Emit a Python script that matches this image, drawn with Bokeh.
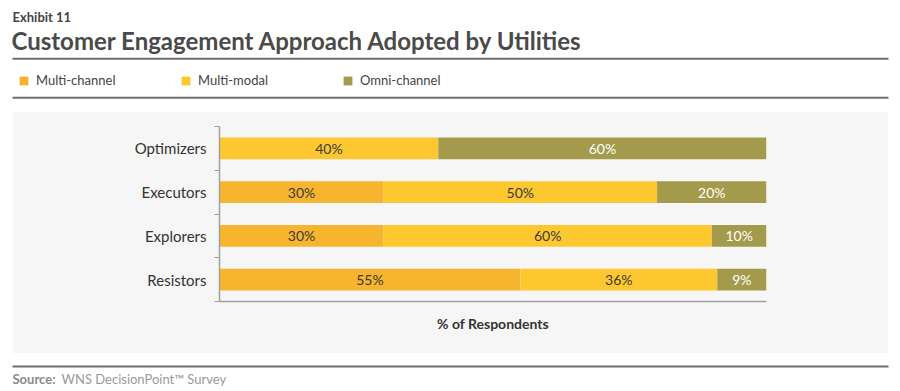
import numpy as np
from bokeh.plotting import figure
from bokeh.layouts import column, row
from bokeh.models import (Range1d, FixedTicker, Label, BoxAnnotation, Legend, LegendItem,
                          ColumnDataSource, Spacer)
from bokeh.core.properties import value
from bokeh.embed import file_html
from bokeh.resources import INLINE

# ---------------- data ----------------
categories = ["Optimizers", "Executors", "Explorers", "Resistors"]
series_names = ["Multi-channel", "Multi-modal", "Omni-channel"]
multi_channel = [0, 30, 30, 55]
multi_modal = [40, 50, 60, 36]
omni_channel = [60, 20, 10, 9]
series_colors = ["#F7B52F", "#FDC82F", "#A39B4B"]
label_colors = ["#3a3a3a", "#3a3a3a", "#ffffff"]

title_kicker = "Exhibit 11"
title_text = "Customer Engagement Approach Adopted by Utilities"
x_axis_title = "% of Respondents"
source_bold = "Source:"
source_rest = "WNS DecisionPoint\u2122 Survey"

W = 900
HEAD_H, MAIN_H, FOOT_H = 111, 242, 38
PANEL_W = 876
RULE = "#6e6e6e"
GREY = "#f6f6f6"

def blank_fig(h):
    f = figure(width=W, height=h, output_backend="svg", toolbar_location=None,
               x_range=Range1d(0, W), y_range=Range1d(h, 0),
               x_axis_type=None, y_axis_type=None, min_border=0)
    f.outline_line_color = None
    f.xgrid.visible = False
    f.ygrid.visible = False
    f.background_fill_color = "#ffffff"
    f.border_fill_color = "#ffffff"
    return f

def rule(f, y):
    f.add_layout(BoxAnnotation(left=12, right=888, top=y - 1, bottom=y + 1,
                               fill_color=RULE, fill_alpha=1, line_color=None))

# ---------------- header ----------------
head = blank_fig(HEAD_H)
head.add_layout(Label(x=12, y=16, text=title_kicker, text_font="Lato", text_font_style="bold",
                      text_font_size="13px", text_color="#444444", text_baseline="middle"))
head.add_layout(Label(x=11, y=39.5, text=title_text, text_font="Lato", text_font_style="bold",
                      text_font_size="24px", text_color="#4a4a4a", text_baseline="middle"))
rule(head, 58.3)
rule(head, 97.3)

legend_rs = [head.hbar(y=np.array([np.nan]), left=np.array([np.nan]), right=np.array([np.nan]),
                       height=1, fill_color=c, line_color=None)
             for c in series_colors]
legend = Legend(items=[LegendItem(label=series_names[k], renderers=[legend_rs[k]]) for k in range(3)],
                orientation="horizontal", location=(18, HEAD_H - 88),
                glyph_width=11, glyph_height=11, label_standoff=7, label_width=144, spacing=0,
                padding=0, margin=0, border_line_color=None, background_fill_alpha=0,
                label_text_font="Lato", label_text_font_size="13px", label_text_color="#444444",
                label_height=11)
head.add_layout(legend)

# ---------------- main chart ----------------
n = len(categories)
p = figure(width=PANEL_W, height=MAIN_H, output_backend="svg", toolbar_location=None,
           x_range=Range1d(0, 100), y_range=Range1d(0, n),
           min_border_left=207, min_border_right=122, min_border_top=15, min_border_bottom=52)
p.background_fill_color = GREY
p.border_fill_color = GREY
p.outline_line_color = None
p.xgrid.visible = False
p.ygrid.visible = False

ycent = [n - 0.5 - i for i in range(n)]
series = [multi_channel, multi_modal, omni_channel]
left = [0.0] * n
lx, ly, lt, lc = [], [], [], []
for s, vals in enumerate(series):
    right = [left[i] + vals[i] for i in range(n)]
    src = ColumnDataSource(dict(y=ycent, left=list(left), right=right))
    p.hbar(y="y", left="left", right="right", height=0.5, source=src,
           fill_color=series_colors[s], line_color=None)
    for i in range(n):
        if vals[i] > 0:
            lx.append((left[i] + right[i]) / 2)
            ly.append(ycent[i])
            lt.append(f"{vals[i]}%")
            lc.append(label_colors[s])
    left = right

lsrc = ColumnDataSource(dict(x=lx, y=ly, t=lt, c=lc))
p.text(x="x", y="y", text="t", text_color="c", source=lsrc, text_align="center",
       text_baseline="middle", text_font=value("Lato"), text_font_size="14px")

yax = p.yaxis[0]
yax.ticker = FixedTicker(ticks=ycent, minor_ticks=list(range(n + 1)))
yax.major_label_overrides = {ycent[i]: categories[i] for i in range(n)}
yax.major_tick_in = 0
yax.major_tick_out = 0
yax.minor_tick_in = 0
yax.minor_tick_out = 5
yax.minor_tick_line_color = "#a0a0a0"
yax.axis_line_color = "#a0a0a0"
yax.axis_line_width = 1.5
yax.major_label_standoff = 8
yax.major_label_text_font = "Lato"
yax.major_label_text_font_size = "15px"
yax.major_label_text_color = "#333333"

xax = p.xaxis[0]
xax.ticker = FixedTicker(ticks=[])
xax.axis_label = x_axis_title
xax.axis_label_text_font = "Lato"
xax.axis_label_text_font_style = "bold"
xax.axis_label_text_font_size = "14px"
xax.axis_label_text_color = "#333333"
xax.axis_label_standoff = 13
xax.major_tick_in = 0
xax.major_tick_out = 0
xax.axis_line_color = "#a0a0a0"
xax.axis_line_width = 1.5

main_row = row(Spacer(width=12, height=MAIN_H), p, Spacer(width=12, height=MAIN_H), spacing=0)

# ---------------- footer ----------------
foot = blank_fig(FOOT_H)
rule(foot, 13)
foot.add_layout(Label(x=12, y=25, text=source_bold, text_font="Lato", text_font_style="bold",
                      text_font_size="13px", text_color="#8a8a8a", text_baseline="middle"))
foot.add_layout(Label(x=61, y=25, text=source_rest, text_font="Lato",
                      text_font_size="13px", text_color="#999999", text_baseline="middle"))

layout = column(head, main_row, foot, spacing=0)
open("out.html", "w").write(file_html(layout, INLINE))
